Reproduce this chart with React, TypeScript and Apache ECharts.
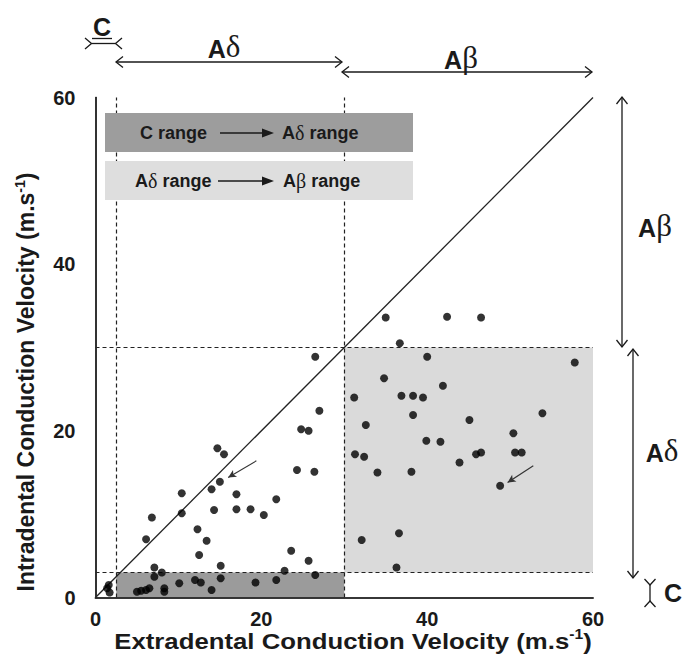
import React, { useEffect, useRef } from "react";
import * as echarts from "echarts";

const axisTicks = [0, 20, 40, 60];
const cLimitExtra = 2.5;
const cLimitIntra = 3;
const aDeltaLimit = 30;

const nearOrigin: [number, number][] = [[1.6, 1.5], [1.4, 1.1], [1.7, 0.6]];
const cToADelta: [number, number][] = [
  [5.0, 0.7], [5.5, 0.8], [6.1, 0.9], [6.5, 1.1], [8.3, 1.1], [8.3, 0.7], [7.1, 2.5],
  [10.1, 1.7], [12.0, 2.1], [12.7, 1.8], [14.0, 0.9], [15.1, 2.3], [19.3, 1.8],
  [21.8, 2.1], [22.8, 3.2], [26.5, 2.7],
];
const aDeltaBoth: [number, number][] = [
  [26.5, 28.9], [27.0, 22.4], [24.8, 20.2], [25.7, 20.0], [14.7, 17.9], [15.5, 17.2],
  [24.3, 15.3], [26.4, 15.1], [15.0, 13.9], [14.0, 13.0], [10.4, 12.5], [17.0, 12.4],
  [21.8, 11.8], [10.4, 10.1], [14.3, 10.5], [17.0, 10.6], [18.7, 10.6], [20.3, 9.9],
  [6.8, 9.6], [12.3, 8.2], [6.1, 7.0], [13.4, 6.8], [12.5, 5.1], [23.6, 5.6],
  [25.7, 4.4], [7.1, 3.6], [8.0, 3.0], [15.1, 3.8],
];
const aDeltaToABeta: [number, number][] = [
  [40.0, 28.9], [57.8, 28.2], [34.8, 26.3], [41.9, 25.4], [31.2, 24.0], [36.9, 24.2],
  [38.3, 24.2], [39.5, 24.0], [38.3, 21.9], [53.9, 22.1], [32.6, 20.7], [45.1, 21.3],
  [50.4, 19.7], [39.9, 18.8], [41.6, 18.7], [31.3, 17.2], [32.4, 16.9], [45.9, 17.2],
  [46.5, 17.4], [50.6, 17.4], [51.4, 17.4], [43.9, 16.2], [34.0, 15.0], [38.1, 15.1],
  [48.8, 13.4], [32.1, 6.9], [36.6, 7.7], [36.3, 3.6],
];
const aBetaBoth: [number, number][] = [[35.0, 33.6], [42.4, 33.7], [46.5, 33.6], [36.7, 30.5]];
const pointerArrows: [number, number][][] = [
  [[19.4, 16.4], [16.0, 14.4]],
  [[52.8, 15.8], [49.7, 13.8]],
];

const SANS = "Liberation Sans, Arial, sans-serif";
const SERIF = "Liberation Serif, Times New Roman, serif";
const INK = "#1a1a1a";

const seg = (x1: number, y1: number, x2: number, y2: number) => ({
  type: "line", z: 100, shape: { x1, y1, x2, y2 }, style: { stroke: INK, lineWidth: 1.3 },
});
const head = (pts: number[][]) => ({
  type: "polyline", z: 100, shape: { points: pts }, style: { stroke: INK, lineWidth: 1.3, fill: null },
});
const greekLabel = (x: number, y: number, g: string) => ({
  type: "text", z: 100, x, y,
  style: {
    text: `{a|A}{g|${g}}`,
    align: "center", verticalAlign: "middle", fill: INK,
    rich: {
      a: { fontSize: 25, fontWeight: "bold", fontFamily: SANS, fill: INK, verticalAlign: "bottom" },
      g: { fontSize: 31, fontFamily: SERIF, fill: INK, verticalAlign: "bottom" },
    },
  },
});
const legendText = (x: number, y: number, text: string) => ({
  type: "text", z: 101, x, y,
  style: {
    text, align: "left", verticalAlign: "middle", fill: INK,
    rich: {
      b: { fontSize: 18, fontWeight: "bold", fontFamily: SANS, fill: INK },
      g: { fontSize: 20, fontFamily: SERIF, fill: INK },
    },
  },
});
const axisName = (text: string) => ({
  text,
  align: "center", verticalAlign: "middle", fill: INK,
  rich: {
    a: { fontSize: 23, fontWeight: "bold", fontFamily: SANS, fill: INK, lineHeight: 27 },
    s: { fontSize: 14, fontWeight: "bold", fontFamily: SANS, fill: INK, verticalAlign: "top" },
  },
});

export default function App() {
  const ref = useRef<HTMLDivElement>(null);
  useEffect(() => {
    document.body.style.margin = "0";
    const chart = echarts.init(ref.current!, null, { renderer: "svg" });
    const allDots = [...nearOrigin, ...cToADelta, ...aDeltaBoth, ...aDeltaToABeta, ...aBetaBoth];
    const graphic: any[] = [
      // legend boxes
      { type: "rect", z: 100, shape: { x: 105, y: 113, width: 308, height: 39 }, style: { fill: "#9d9d9d" } },
      { type: "rect", z: 100, shape: { x: 105, y: 161, width: 308, height: 39 }, style: { fill: "#dedede" } },
      legendText(140, 133, "{b|C range}"),
      seg(220, 133, 264, 133),
      { type: "polygon", z: 101, shape: { points: [[262, 128.5], [274, 133], [262, 137.5]] }, style: { fill: INK } },
      legendText(282, 133, "{b|A}{g|δ}{b| range}"),
      legendText(135, 181, "{b|A}{g|δ}{b| range}"),
      seg(218, 181, 264, 181),
      { type: "polygon", z: 101, shape: { points: [[262, 176.5], [274, 181], [262, 185.5]] }, style: { fill: INK } },
      legendText(283, 181, "{b|A}{g|β}{b| range}"),
      // top annotations
      { type: "text", z: 100, x: 102, y: 27, style: { text: "C", align: "center", verticalAlign: "middle", fill: INK, fontSize: 25, fontWeight: "bold", fontFamily: SANS } },
      seg(92, 38.5, 112, 38.5),
      seg(91.5, 43.5, 115.5, 43.5),
      head([[85, 38], [91.5, 43.5], [85, 49]]),
      head([[122, 38], [115.5, 43.5], [122, 49]]),
      greekLabel(224, 46, "δ"),
      seg(116, 62, 342, 62),
      head([[123, 56.5], [116, 62], [123, 67.5]]),
      head([[335, 56.5], [342, 62], [335, 67.5]]),
      greekLabel(461, 57, "β"),
      seg(342, 72, 592, 72),
      head([[349, 66.5], [342, 72], [349, 77.5]]),
      head([[585, 66.5], [592, 72], [585, 77.5]]),
      // right annotations
      seg(622, 97, 622, 347),
      head([[616.5, 104], [622, 97], [627.5, 104]]),
      head([[616.5, 340], [622, 347], [627.5, 340]]),
      greekLabel(655, 225, "β"),
      seg(633, 349, 633, 578),
      head([[627.5, 356], [633, 349], [638.5, 356]]),
      head([[627.5, 571], [633, 578], [638.5, 571]]),
      greekLabel(662, 450, "δ"),
      seg(650, 585, 650, 601),
      head([[644.5, 579], [650, 585], [655.5, 579]]),
      head([[644.5, 607], [650, 601], [655.5, 607]]),
      { type: "text", z: 100, x: 673, y: 593, style: { text: "C", align: "center", verticalAlign: "middle", fill: INK, fontSize: 25, fontWeight: "bold", fontFamily: SANS } },
      // axis names
      {
        type: "text", z: 100, x: 353, y: 641, scaleX: 1.12,
        style: axisName("{a|Extradental Conduction Velocity (m.s}{s|-1}{a|)}"),
      },
      {
        type: "text", z: 100, x: 26, y: 382, rotation: Math.PI / 2,
        style: axisName("{a|Intradental Conduction Velocity (m.s}{s|-1}{a|)}"),
      },
    ];

    const frameAxis = { show: true, lineStyle: { color: "#2a2a2a", width: 1.6 } };
    chart.setOption({
      animation: false,
      backgroundColor: "#ffffff",
      grid: { left: 95.5, right: 92, top: 97.5, bottom: 68.5, show: false },
      xAxis: [
        {
          type: "value", min: axisTicks[0], max: axisTicks[axisTicks.length - 1], interval: 20, z: 10,
          axisLine: frameAxis, axisTick: { show: false }, splitLine: { show: false },
          axisLabel: { margin: 11, fontSize: 20, fontWeight: "bold", fontFamily: SANS, color: INK },
        },
        {
          type: "value", position: "top", min: 0, max: 60, z: 10,
          axisLine: frameAxis, axisTick: { show: false }, splitLine: { show: false }, axisLabel: { show: false },
        },
      ],
      yAxis: [
        {
          type: "value", min: axisTicks[0], max: axisTicks[axisTicks.length - 1], interval: 20, z: 10,
          axisLine: frameAxis, axisTick: { show: false }, splitLine: { show: false },
          axisLabel: { margin: 20, fontSize: 20, fontWeight: "bold", fontFamily: SANS, color: INK },
        },
        {
          type: "value", position: "right", min: 0, max: 60, z: 10,
          axisLine: frameAxis, axisTick: { show: false }, splitLine: { show: false }, axisLabel: { show: false },
        },
      ],
      series: [
        {
          type: "scatter", name: "regions", data: [], z: 1, silent: true,
          markArea: {
            silent: true,
            data: [
              [{ coord: [cLimitExtra, 0], itemStyle: { color: "#9b9b9b" } }, { coord: [aDeltaLimit, cLimitIntra] }],
              [{ coord: [aDeltaLimit, cLimitIntra], itemStyle: { color: "#dadada" } }, { coord: [60, aDeltaLimit] }],
            ],
          },
        },
        {
          type: "scatter", name: "limits", data: [], z: 3, silent: true,
          markLine: {
            silent: true, symbol: ["none", "none"], label: { show: false },
            lineStyle: { color: "#222", width: 1.2, type: [4, 3] },
            data: [{ xAxis: cLimitExtra }, { xAxis: aDeltaLimit }, { yAxis: cLimitIntra }, { yAxis: aDeltaLimit }],
          },
        },
        {
          type: "line", name: "identity", data: [[0, 0], [60, 60]], z: 4, showSymbol: false, silent: true,
          lineStyle: { color: "#222", width: 1.3 },
        },
        {
          type: "scatter", name: "fibres", data: allDots, z: 5, symbolSize: 8,
          itemStyle: { color: "#000" },
          markLine: {
            silent: true, symbol: ["none", "arrow"], symbolSize: [6, 8], label: { show: false },
            lineStyle: { color: "#333", width: 1.1, type: "solid" },
            data: pointerArrows.map(([a, b]) => [{ coord: a }, { coord: b }]),
          },
        },
      ],
      graphic,
    });
    return () => chart.dispose();
  }, []);
  return <div ref={ref} style={{ width: 685, height: 666 }} />;
}
